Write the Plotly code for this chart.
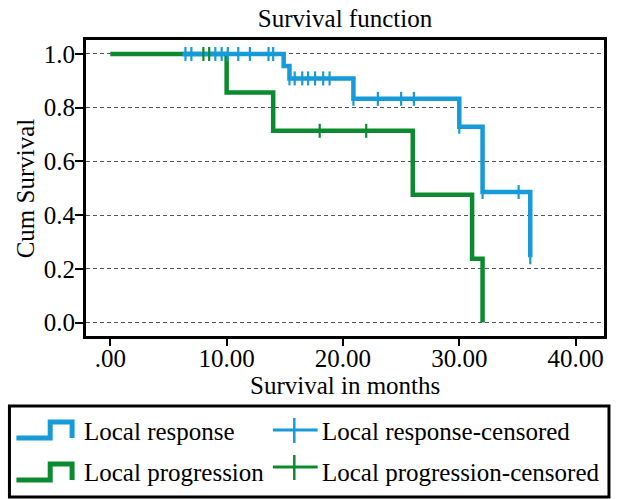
import plotly.graph_objects as go

# ---------------- data ----------------
resp_times = [6.2, 14.9, 15.4, 20.9, 30.0, 32.0, 36.1]
resp_surv = [1.0, 0.955, 0.909, 0.833, 0.729, 0.486, 0.243]
resp_cens_t = [6.46, 6.97, 9.03, 9.57, 10.1, 11.0, 12.0, 13.6, 14.0,
               15.4, 15.85, 16.5, 17.0, 17.6, 18.3, 18.85,
               20.9, 23.0, 25.0, 26.1, 30.0, 32.0, 35.1, 36.1]
resp_cens_s = [1.0] * 9 + [0.909] * 7 + [0.833] * 4 + [0.729] + [0.486] * 2 + [0.243]

prog_times = [0.0, 10.0, 14.0, 26.0, 31.1, 32.0]
prog_surv = [1.0, 0.857, 0.714, 0.476, 0.238, 0.0]
prog_cens_t = [8.0, 8.5, 18.0, 22.0]
prog_cens_s = [1.0, 1.0, 0.714, 0.714]

x_ticks = [0, 10, 20, 30, 40]
x_ticktext = [".00", "10.00", "20.00", "30.00", "40.00"]
y_ticks = [0.0, 0.2, 0.4, 0.6, 0.8, 1.0]
y_ticktext = ["0.0", "0.2", "0.4", "0.6", "0.8", "1.0"]

series_names = ["Local response", "Local progression"]
censor_names = ["Local response-censored", "Local progression-censored"]

BLUE = "#169bd8"
GREEN = "#0b8a2f"
FONT = "Liberation Serif"
FS = 25

W, H = 618, 499
L, R, T, B = 86, 607, 40, 336   # plot area in pixels

fig = go.Figure()
fig.add_trace(go.Scatter(x=prog_times, y=prog_surv, mode="lines", line_shape="hv",
                         line=dict(color=GREEN, width=4.5), showlegend=False))
fig.add_trace(go.Scatter(x=resp_times, y=resp_surv, mode="lines", line_shape="hv",
                         line=dict(color=BLUE, width=4.5), showlegend=False))
fig.add_trace(go.Scatter(x=resp_cens_t, y=resp_cens_s, mode="markers",
                         marker=dict(symbol="line-ns", size=10,
                                     line=dict(color=BLUE, width=2.2)),
                         showlegend=False))
fig.add_trace(go.Scatter(x=prog_cens_t, y=prog_cens_s, mode="markers",
                         marker=dict(symbol="line-ns", size=10,
                                     line=dict(color=GREEN, width=2.2)),
                         showlegend=False))


def px(x):
    return (x - L) / (R - L)


def py(y):
    return (B - y) / (B - T)


shapes = []
# legend frame
shapes.append(dict(type="rect", xref="paper", yref="paper",
                   x0=px(9), x1=px(612), y0=py(497), y1=py(406),
                   line=dict(color="black", width=3), fillcolor="white", layer="above"))
# step icons
for color, ylow, yhigh in [(BLUE, 438, 422), (GREEN, 480, 464)]:
    path = "M {a},{b} L {c},{b} L {c},{d} L {e},{d} L {e},{b}".format(
        a=px(16), b=py(ylow), c=px(50), d=py(yhigh), e=px(72))
    shapes.append(dict(type="path", xref="paper", yref="paper", path=path,
                       line=dict(color=color, width=5), layer="above"))
# cross icons
for color, yc in [(BLUE, 430), (GREEN, 467)]:
    shapes.append(dict(type="line", xref="paper", yref="paper",
                       x0=px(274), x1=px(319), y0=py(yc), y1=py(yc),
                       line=dict(color=color, width=3), layer="above"))
    shapes.append(dict(type="line", xref="paper", yref="paper",
                       x0=px(295.5), x1=px(295.5), y0=py(yc - 12), y1=py(yc + 13),
                       line=dict(color=color, width=2.5), layer="above"))

annotations = []
for name, yc in zip(series_names, [431, 472]):
    annotations.append(dict(text=name, xref="paper", yref="paper", x=px(82), y=py(yc),
                            xanchor="left", yanchor="middle", showarrow=False,
                            font=dict(family=FONT, size=FS, color="black")))
for name, yc in zip(censor_names, [431, 472]):
    annotations.append(dict(text=name, xref="paper", yref="paper", x=px(321), y=py(yc),
                            xanchor="left", yanchor="middle", showarrow=False,
                            font=dict(family=FONT, size=FS, color="black")))
# axis titles
annotations.append(dict(text="Survival in months", xref="paper", yref="paper",
                        x=0.5, y=py(385), xanchor="center", yanchor="middle",
                        showarrow=False, font=dict(family=FONT, size=FS, color="black")))
annotations.append(dict(text="Cum Survival", xref="paper", yref="paper",
                        x=px(25), y=0.5, xanchor="center", yanchor="middle", textangle=-90,
                        showarrow=False, font=dict(family=FONT, size=FS, color="black")))

fig.update_layout(
    width=W, height=H,
    margin=dict(l=L, r=W - R, t=T, b=H - B, pad=0),
    paper_bgcolor="white", plot_bgcolor="white",
    showlegend=False,
    title=dict(text="Survival function", x=0.5, xref="paper", xanchor="center",
               y=1 - 18 / H, yref="container", yanchor="middle",
               font=dict(family=FONT, size=FS, color="black")),
    font=dict(family=FONT, size=FS, color="black"),
    shapes=shapes, annotations=annotations,
)
fig.update_xaxes(range=[-2.09, 42.44], tickvals=x_ticks, ticktext=x_ticktext,
                 showgrid=False, zeroline=False, showline=True, mirror=True,
                 linecolor="black", linewidth=3, ticks="outside", ticklen=7,
                 tickwidth=2, tickcolor="black", ticklabelstandoff=-9,
                 tickfont=dict(family=FONT, size=FS, color="black"))
fig.update_yaxes(range=[-0.05, 1.052], tickvals=y_ticks, ticktext=y_ticktext,
                 showgrid=True, gridcolor="#555555", gridwidth=1, griddash="4px,3px",
                 zeroline=False, showline=True, mirror=True,
                 linecolor="black", linewidth=3, ticks="outside", ticklen=8,
                 tickwidth=2, tickcolor="black", ticklabelstandoff=-5,
                 tickfont=dict(family=FONT, size=FS, color="black"))

fig.write_html("out.html")
